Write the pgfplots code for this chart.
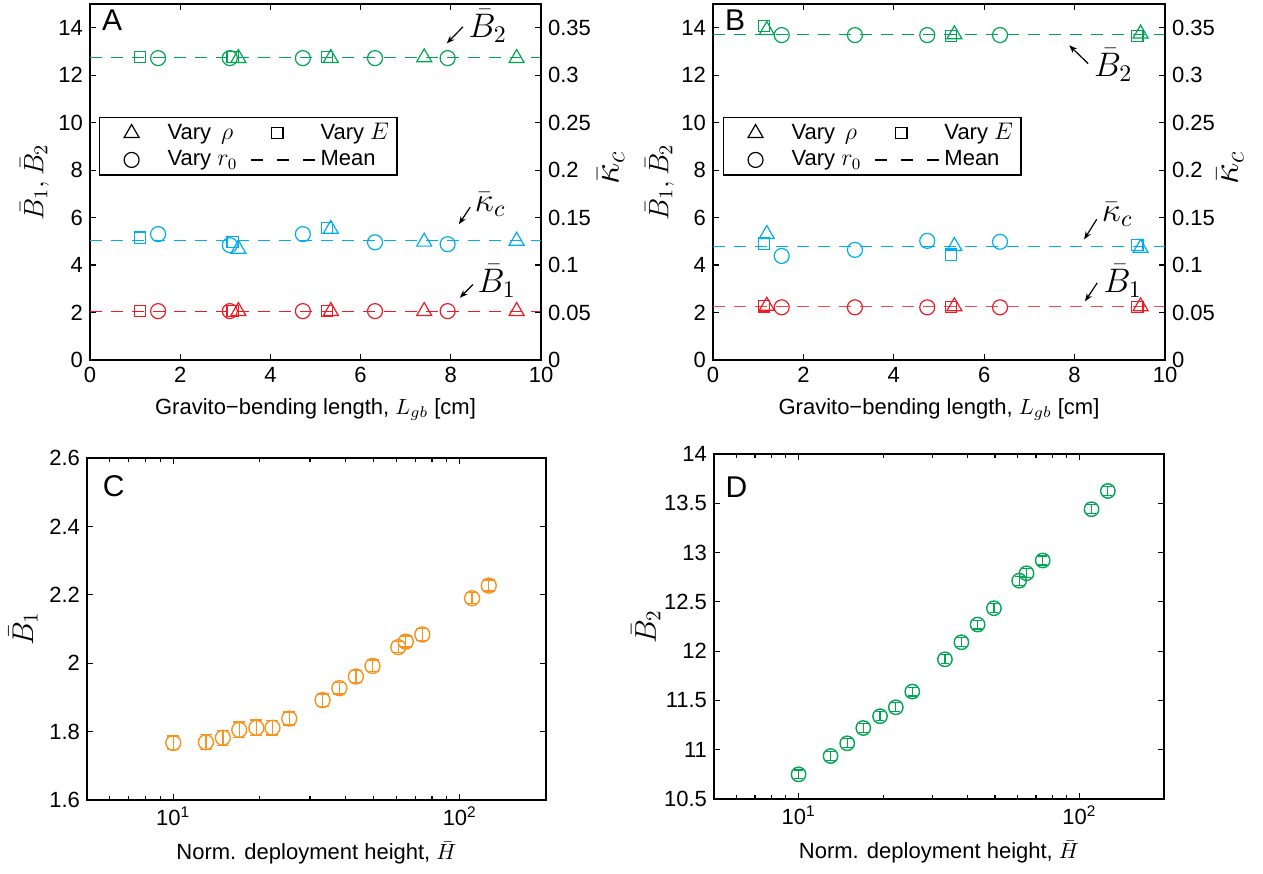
\RequirePackage{fix-cm}
\documentclass[border=0pt]{standalone}
\usepackage[no-math]{fontspec}
\setmainfont{Liberation Sans}
\usepackage{pgfplots}
\usepackage{pgfplotstable}
\pgfplotsset{compat=1.18}
\usetikzlibrary{arrows.meta}

\definecolor{cred}{RGB}{237,28,36}
\definecolor{ccyan}{RGB}{0,174,239}
\definecolor{cgreen}{RGB}{0,166,81}
\definecolor{corange}{RGB}{247,148,29}

\tikzset{
  ann/.style={-{Stealth[length=4pt,width=3pt]}, black, line width=0.6pt},
  annt/.style={font=\fontsize{17}{19}\selectfont, inner sep=1pt, anchor=west},
}
\pgfplotsset{
  mystyle/.style={
    scale only axis, anchor=north west,
    font=\fontsize{11}{13}\selectfont,
    tick align=inside,
    axis line style={line width=0.75pt},
    every tick/.style={black, line width=0.6pt},
    major tick length=3pt, minor tick length=1.8pt,
    /pgf/number format/assume math mode=true,
    label style={font=\fontsize{11}{13}\selectfont},
    xlabel style={yshift=-1pt},
  },
  tri/.style={only marks, mark=triangle, mark size=4.3pt, mark options={solid, line width=0.6pt}},
  sq/.style={only marks, mark=square, mark size=2.8pt, mark options={solid, line width=0.6pt}},
  circ/.style={only marks, mark=o, mark size=3.75pt, mark options={solid, line width=0.6pt}},
  meanline/.style={line width=0.6pt, dash pattern=on 6pt off 4.5pt},
  leg/.style={
    legend style={anchor=north west, draw=black, line width=0.6pt,
      font=\fontsize{11}{13}\selectfont, inner xsep=2pt, inner ysep=1pt,
      /tikz/every even column/.append style={column sep=2pt}},
    legend columns=2, legend cell align=left,
  },
  legtri/.style={legend image code/.code={\path[draw=none] (0pt,0pt) -- (30pt,0pt);\draw[black,solid,line width=0.6pt,mark=triangle,mark size=4.3pt] plot coordinates {(14pt,0pt)};}},
  legsq/.style={legend image code/.code={\path[draw=none] (0pt,0pt) -- (34pt,0pt);\draw[black,solid,line width=0.6pt,mark=square,mark size=2.8pt] plot coordinates {(16pt,0pt)};}},
  legcirc/.style={legend image code/.code={\path[draw=none] (0pt,0pt) -- (30pt,0pt);\draw[black,solid,line width=0.6pt,mark=o,mark size=3.75pt] plot coordinates {(14pt,0pt)};}},
  legmean/.style={legend image code/.code={\draw[black,line width=1.1pt,dash pattern=on 6pt off 7pt] (3pt,0pt) -- (35pt,0pt);}},
}
\newcommand{\lm}[1]{{\fontsize{12}{13}\selectfont$#1$}}

% Panel A
\pgfplotstableread{
x B1 B2 k
3.29 2.06 12.72 0.117
5.34 2.06 12.72 0.138
7.41 2.06 12.75 0.1245
9.46 2.06 12.72 0.1255
}\tabArho
\pgfplotstableread{
x B1 B2 k
1.11 2.06 12.77 0.129
3.16 2.06 12.77 0.124
5.25 2.06 12.77 0.139
}\tabAE
\pgfplotstableread{
x B1 B2 k
1.51 2.06 12.72 0.1326
3.10 2.06 12.72 0.121
4.72 2.06 12.72 0.1326
6.32 2.06 12.72 0.124
7.93 2.06 12.72 0.122
}\tabArz
% Panel B
\pgfplotstableread{
x B1 B2 k
1.19 2.28 13.90 0.1326
5.34 2.26 13.72 0.120
9.46 2.26 13.75 0.118
}\tabBrho
\pgfplotstableread{
x B1 B2 k
1.13 2.26 14.07 0.1227
5.26 2.24 13.65 0.111
9.39 2.24 13.65 0.121
}\tabBE
\pgfplotstableread{
x B1 B2 k
1.52 2.22 13.69 0.1096
3.14 2.22 13.69 0.116
4.74 2.22 13.69 0.1255
6.35 2.22 13.69 0.1245
}\tabBrz
% Panels C and D
\pgfplotstableread{
H B1 e1 B2 e2
10.0 1.767 0.020 10.75 0.045
13.0 1.769 0.022 10.936 0.045
14.9 1.782 0.022 11.065 0.045
17.0 1.805 0.023 11.22 0.045
19.5 1.811 0.023 11.34 0.045
22.2 1.811 0.021 11.43 0.045
25.4 1.838 0.019 11.59 0.045
33.2 1.892 0.018 11.917 0.045
38.0 1.927 0.017 12.09 0.045
43.4 1.961 0.017 12.27 0.045
49.6 1.992 0.017 12.435 0.045
61.0 2.047 0.016 12.715 0.045
64.8 2.063 0.016 12.79 0.045
74.0 2.084 0.017 12.92 0.045
110.4 2.190 0.016 13.44 0.045
126.2 2.227 0.016 13.625 0.045
}\tabCD

\begin{document}
\begin{tikzpicture}
\useasboundingbox (0pt,0pt) rectangle (631.5pt,-436.5pt);

% ================= Panel A =================
\begin{axis}[mystyle, leg, at={(45pt,-2pt)}, width=225.5pt, height=178pt,
  xmin=0, xmax=10, ymin=0, ymax=15,
  xtick={0,2,4,6,8,10}, ytick={0,2,4,6,8,10,12,14},
  ytick pos=left,
  xlabel={Gravito−bending length, $L_{gb}$ [cm]},
  ylabel={\fontsize{14}{16}\selectfont$\bar{B}_1,\bar{B}_2$},
  ylabel shift=-2pt,
  legend style={at={(0.02,0.683)}},
]
\addlegendimage{legtri}
\addlegendentry{Vary \,\lm{\rho}}
\addlegendimage{legsq}
\addlegendentry{Vary \lm{E}}
\addlegendimage{legcirc}
\addlegendentry{Vary \lm{r_0}}
\addlegendimage{legmean}
\addlegendentry{Mean}
\addplot[cgreen, meanline, forget plot] coordinates {(0,12.75) (10,12.75)};
\addplot[cred, meanline, forget plot] coordinates {(0,2.06) (10,2.06)};
\addplot[cgreen, tri, forget plot] table[x=x,y=B2] {\tabArho};
\addplot[cgreen, sq, forget plot] table[x=x,y=B2] {\tabAE};
\addplot[cgreen, circ, forget plot] table[x=x,y=B2] {\tabArz};
\addplot[cred, tri, forget plot] table[x=x,y=B1] {\tabArho};
\addplot[cred, sq, forget plot] table[x=x,y=B1] {\tabAE};
\addplot[cred, circ, forget plot] table[x=x,y=B1] {\tabArz};
\node[font=\fontsize{15}{17}\selectfont] at (axis cs:0.49,14.31) {A};
\draw[ann] (axis cs:8.27,14.04) -- (axis cs:7.91,13.34);
\node[annt] at (axis cs:8.34,14.08) {$\bar{B}_2$};
\draw[ann] (axis cs:8.43,6.44) -- (axis cs:8.18,5.72);
\node[annt] at (axis cs:8.48,6.55) {$\bar{\kappa}_c$};
\draw[ann] (axis cs:8.49,3.18) -- (axis cs:8.20,2.62);
\node[annt] at (axis cs:8.54,3.32) {$\bar{B}_1$};
\end{axis}
\begin{axis}[mystyle, at={(45pt,-2pt)}, width=225.5pt, height=178pt,
  xmin=0, xmax=10, ymin=0, ymax=0.375,
  axis x line=none, axis y line*=right,
  ytick={0,0.05,0.1,0.15,0.2,0.25,0.3,0.35}, scaled y ticks=false,
  yticklabel style={/pgf/number format/fixed, /pgf/number format/precision=2},
  ylabel={\fontsize{19}{21}\selectfont$\bar{\kappa}_c$},
  ylabel style={at={(axis description cs:1.155,0.54)}, anchor=center},
]
\addplot[ccyan, meanline] coordinates {(0,0.126) (10,0.126)};
\addplot[ccyan, tri] table[x=x,y=k] {\tabArho};
\addplot[ccyan, sq] table[x=x,y=k] {\tabAE};
\addplot[ccyan, circ] table[x=x,y=k] {\tabArz};
\end{axis}

% ================= Panel B =================
\begin{axis}[mystyle, leg, at={(356.5pt,-2pt)}, width=226pt, height=178pt,
  xmin=0, xmax=10, ymin=0, ymax=15,
  xtick={0,2,4,6,8,10}, ytick={0,2,4,6,8,10,12,14},
  ytick pos=left,
  xlabel={Gravito−bending length, $L_{gb}$ [cm]},
  ylabel={\fontsize{14}{16}\selectfont$\bar{B}_1,\bar{B}_2$},
  ylabel shift=-3pt,
  legend style={at={(0.022,0.683)}},
]
\addlegendimage{legtri}
\addlegendentry{Vary \,\lm{\rho}}
\addlegendimage{legsq}
\addlegendentry{Vary \lm{E}}
\addlegendimage{legcirc}
\addlegendentry{Vary \lm{r_0}}
\addlegendimage{legmean}
\addlegendentry{Mean}
\addplot[cgreen, meanline, forget plot] coordinates {(0,13.72) (10,13.72)};
\addplot[cred!80, meanline, forget plot] coordinates {(0,2.24) (10,2.24)};
\addplot[cgreen, tri, forget plot] table[x=x,y=B2] {\tabBrho};
\addplot[cgreen, sq, forget plot] table[x=x,y=B2] {\tabBE};
\addplot[cgreen, circ, forget plot] table[x=x,y=B2] {\tabBrz};
\addplot[cred, tri, forget plot] table[x=x,y=B1] {\tabBrho};
\addplot[cred, sq, forget plot] table[x=x,y=B1] {\tabBE};
\addplot[cred, circ, forget plot] table[x=x,y=B1] {\tabBrz};
\node[font=\fontsize{15}{17}\selectfont] at (axis cs:0.49,14.31) {B};
\draw[ann] (axis cs:8.30,12.49) -- (axis cs:7.88,13.26);
\node[annt] at (axis cs:8.38,12.42) {$\bar{B}_2$};
\draw[ann] (axis cs:8.49,5.93) -- (axis cs:8.21,5.08);
\node[annt] at (axis cs:8.55,6.12) {$\bar{\kappa}_c$};
\draw[ann] (axis cs:8.50,3.25) -- (axis cs:8.23,2.47);
\node[annt] at (axis cs:8.59,3.32) {$\bar{B}_1$};
\end{axis}
\begin{axis}[mystyle, at={(356.5pt,-2pt)}, width=226pt, height=178pt,
  xmin=0, xmax=10, ymin=0, ymax=0.375,
  axis x line=none, axis y line*=right,
  ytick={0,0.05,0.1,0.15,0.2,0.25,0.3,0.35}, scaled y ticks=false,
  yticklabel style={/pgf/number format/fixed, /pgf/number format/precision=2},
  ylabel={\fontsize{19}{21}\selectfont$\bar{\kappa}_c$},
  ylabel style={at={(axis description cs:1.144,0.54)}, anchor=center},
]
\addplot[ccyan, meanline] coordinates {(0,0.1195) (10,0.1195)};
\addplot[ccyan, tri] table[x=x,y=k] {\tabBrho};
\addplot[ccyan, sq] table[x=x,y=k] {\tabBE};
\addplot[ccyan, circ] table[x=x,y=k] {\tabBrz};
\end{axis}

% ================= Panel C =================
\begin{axis}[mystyle, xmode=log, at={(43.5pt,-229pt)}, width=229.5pt, height=171pt,
  xmin=5, xmax=200, ymin=1.6, ymax=2.6,
  xtick={10,100}, xticklabels={10\textsuperscript{1},10\textsuperscript{2}},
  minor xtick={6,7,8,9,20,30,40,50,60,70,80,90,200},
  ytick={1.6,1.8,2,2.2,2.4,2.6},
  xlabel={Norm. deployment height, $\bar{H}$},
  ylabel={\fontsize{15}{17}\selectfont$\bar{B}_1$},
  ylabel shift=-1pt,
]
\addplot[corange, only marks, mark=o, mark size=3.75pt, mark options={line width=0.7pt},
  error bars/.cd, y dir=both, y explicit,
  error bar style={line width=0.7pt},
  error mark options={rotate=90, mark size=3pt, line width=0.7pt}]
  table[x=H, y=B1, y error=e1] {\tabCD};
\node[font=\fontsize{15}{17}\selectfont] at (rel axis cs:0.058,0.918) {C};
\end{axis}

% ================= Panel D =================
\begin{axis}[mystyle, xmode=log, at={(357pt,-227pt)}, width=225pt, height=172.5pt,
  xmin=5, xmax=200, ymin=10.5, ymax=14,
  xtick={10,100}, xticklabels={10\textsuperscript{1},10\textsuperscript{2}},
  minor xtick={6,7,8,9,20,30,40,50,60,70,80,90,200},
  ytick={10.5,11,11.5,12,12.5,13,13.5,14},
  xlabel={Norm. deployment height, $\bar{H}$},
  ylabel={\fontsize{15}{17}\selectfont$\bar{B}_2$},
  ylabel shift=-5pt,
]
\addplot[cgreen, only marks, mark=o, mark size=3.6pt, mark options={line width=0.7pt},
  error bars/.cd, y dir=both, y explicit,
  error bar style={line width=0.6pt},
  error mark options={rotate=90, mark size=2.2pt, line width=0.6pt}]
  table[x=H, y=B2, y error=e2] {\tabCD};
\node[font=\fontsize{15}{17}\selectfont] at (rel axis cs:0.05,0.905) {D};
\end{axis}
\end{tikzpicture}
\end{document}
